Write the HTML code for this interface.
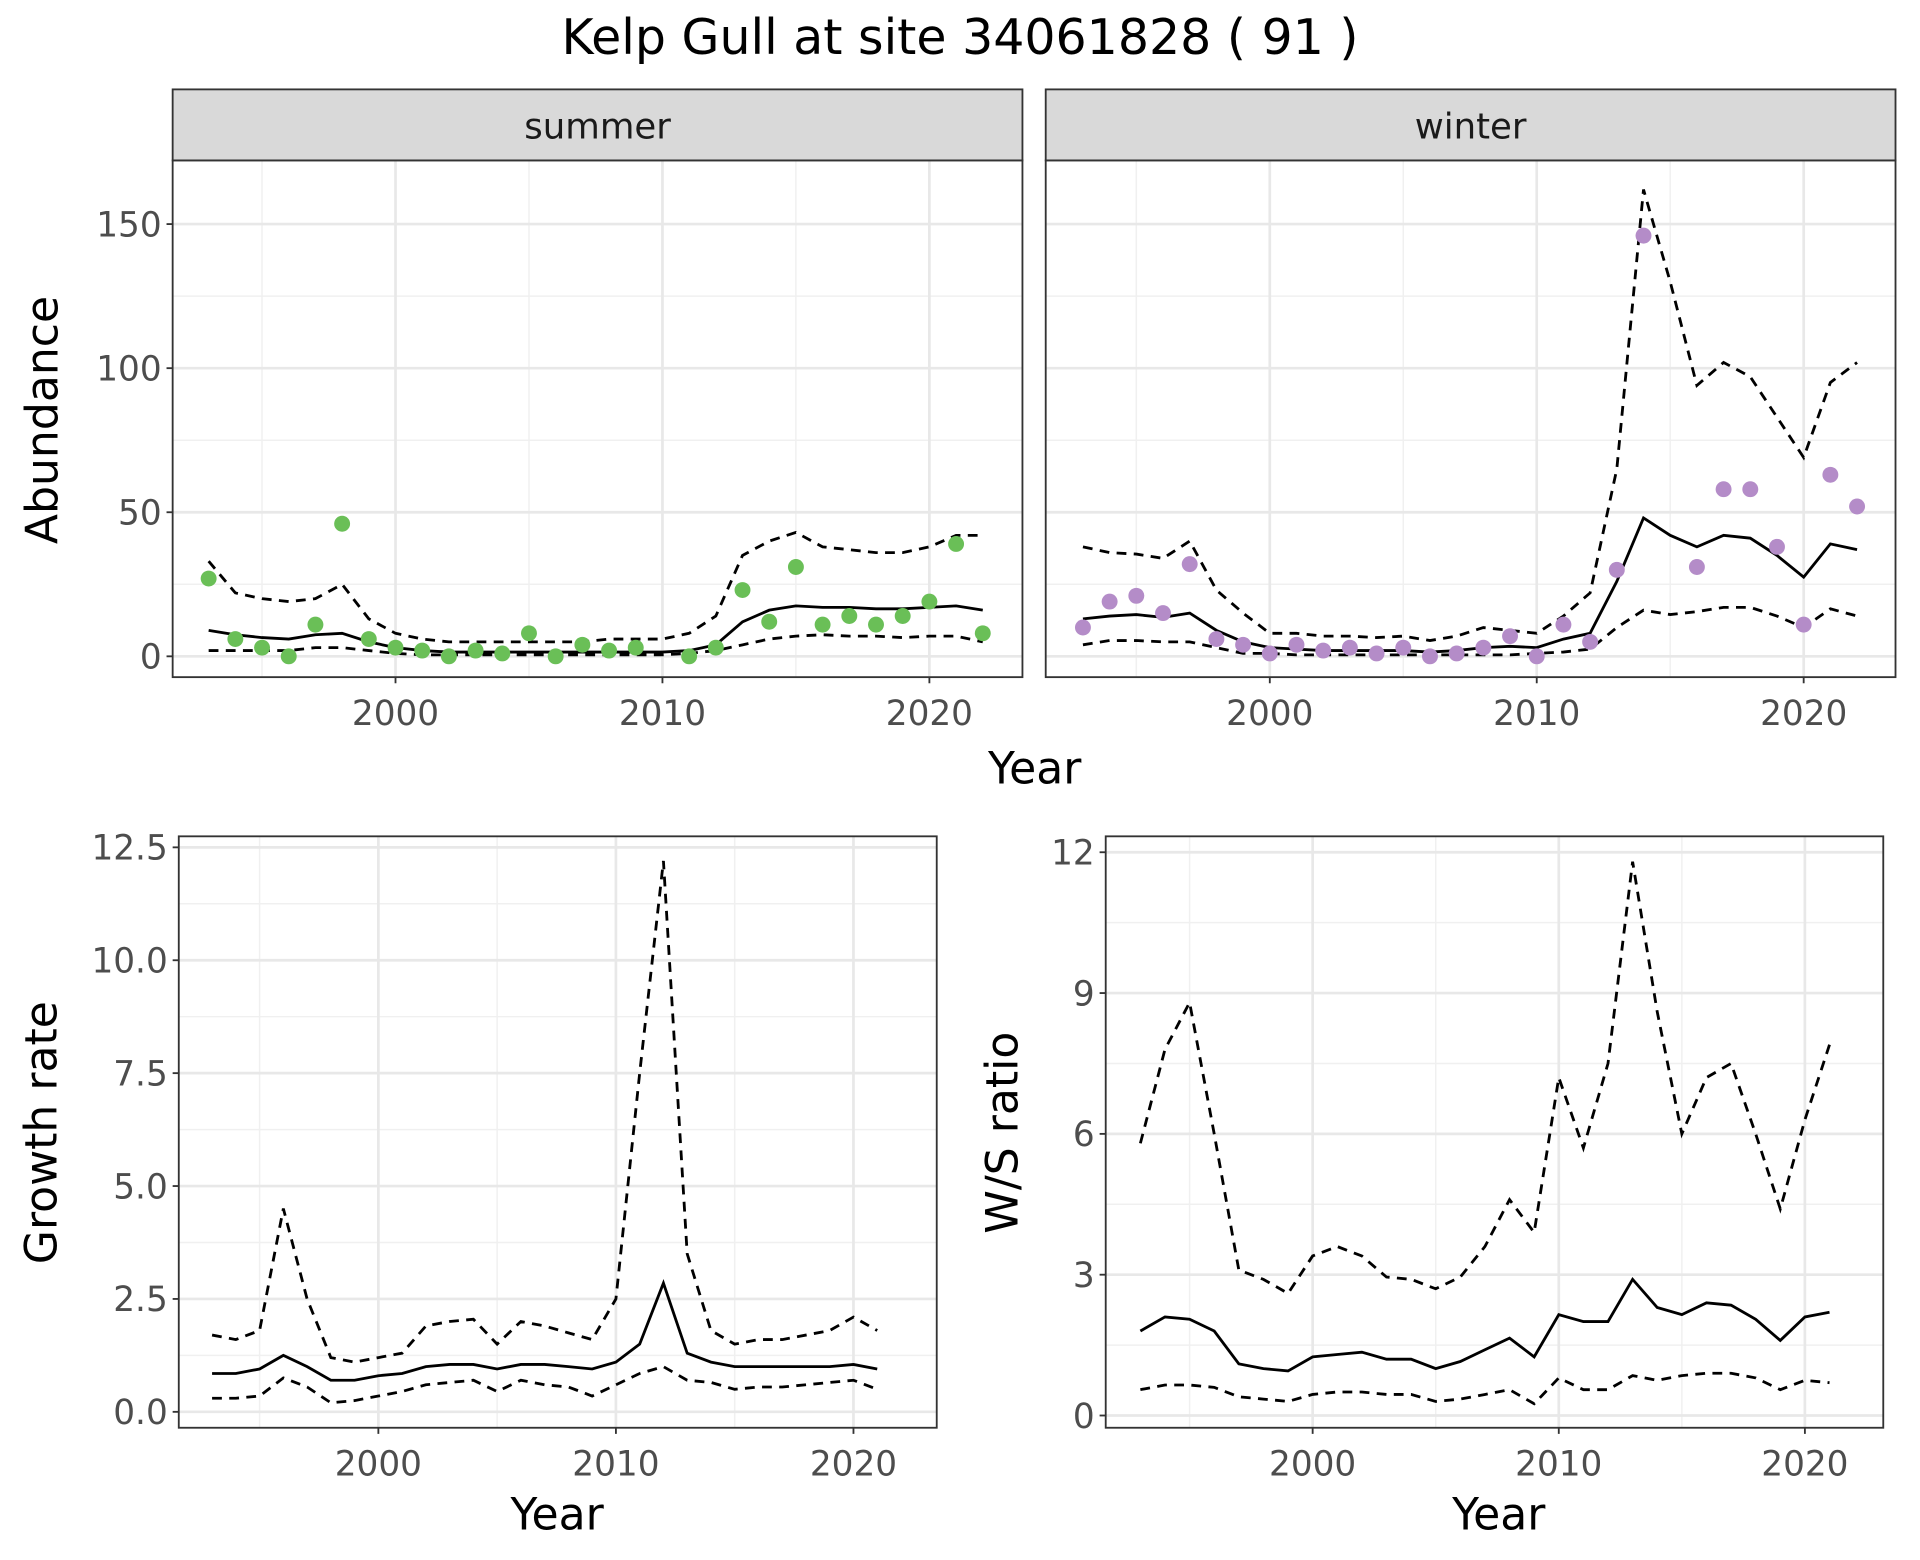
<!DOCTYPE html>
<html><head><meta charset="utf-8"><style>
html,body{margin:0;padding:0;background:#fff}
svg{display:block;font-family:"DejaVu Sans","Liberation Sans",sans-serif}
</style></head><body>
<svg id="c" width="1920" height="1560" viewBox="0 0 1568 1274" xmlns="http://www.w3.org/2000/svg">
<text x="784" y="44" text-anchor="middle" font-size="40" fill="#000">Kelp Gull at site 34061828 ( 91 )</text>
</svg>
<script>
const years = [1993,1994,1995,1996,1997,1998,1999,2000,2001,2002,2003,2004,2005,2006,2007,2008,2009,2010,2011,2012,2013,2014,2015,2016,2017,2018,2019,2020,2021,2022];
const sumObs = [27,6,3,0,11,46,6,3,2,0,2,1,8,0,4,2,3,null,0,3,23,12,31,11,14,11,14,19,39,8];
const sumMean = [9,7.5,6.5,6,7.5,8,5,3,2,1.5,1.5,1.5,1.5,1.5,1.5,1.5,1.5,1.5,2,4,12,16,17.5,17,17,16.5,16.5,17,17.5,16];
const sumUp = [33,22,20,19,20,25,13,8,6,5,5,5,5,5,5,6,6,6,8,14,35,40,43,38,37,36,36,38,42,42];
const sumLo = [2,2,2,2,3,3,2,1,0.5,0.5,0.5,0.5,0.5,0.5,0.5,0.5,0.5,0.5,1,2,4,6,7,7.5,7,7,6.5,7,7,5];
const winObs = [10,19,21,15,32,6,4,1,4,2,3,1,3,0,1,3,7,0,11,5,30,146,null,31,58,58,38,11,63,52];
const winMean = [13,14,14.5,13.5,15,9,5,3,2.5,2,2,2,2,1.5,2,3,3.5,3,6,8,26,48,42,38,42,41,35,27.5,39,37];
const winUp = [38,36,35.5,34,40,23,15,8,8,7,7,6.5,7,5.5,7,10,9,8,14,22,65,162,130,94,102,97,83,69,95,102];
const winLo = [4,5.5,5.5,5,5,3,1,1,0.5,0.5,0.5,0.5,0.5,0.5,0.5,0.5,0.5,1,1.5,2.5,10,16,14.5,15.5,17,17,14,10,16.5,14];
const rYears = years.slice(0,29);
const grMean = [.85,.85,.95,1.25,1.0,.7,.7,.8,.85,1.0,1.05,1.05,.95,1.05,1.05,1.0,.95,1.1,1.5,2.85,1.3,1.1,1.0,1.0,1.0,1.0,1.0,1.05,.95];
const grUp = [1.7,1.6,1.8,4.5,2.5,1.2,1.1,1.2,1.3,1.9,2.0,2.05,1.5,2.0,1.9,1.75,1.6,2.5,7.5,12.2,3.5,1.8,1.5,1.6,1.6,1.7,1.8,2.1,1.8];
const grLo = [.3,.3,.35,.75,.55,.2,.25,.35,.45,.6,.65,.7,.45,.7,.6,.55,.35,.6,.85,1.0,.7,.65,.5,.55,.55,.6,.65,.7,.5];
const wsMean = [1.8,2.1,2.05,1.8,1.1,1.0,.95,1.25,1.3,1.35,1.2,1.2,1.0,1.15,1.4,1.65,1.25,2.15,2.0,2.0,2.9,2.3,2.15,2.4,2.35,2.05,1.6,2.1,2.2];
const wsUp = [5.8,7.8,8.8,6.0,3.1,2.9,2.6,3.4,3.6,3.4,2.95,2.9,2.7,2.95,3.6,4.6,3.9,7.2,5.7,7.5,11.8,8.6,6.0,7.2,7.5,6.0,4.4,6.3,7.9];
const wsLo = [.55,.65,.65,.6,.4,.35,.3,.45,.5,.5,.45,.45,.3,.35,.45,.55,.25,.8,.55,.55,.85,.75,.85,.9,.9,.8,.55,.75,.7];
const xTicks = [2000,2010,2020];
const xMinor = [1995,2005,2015];
const abTicks = [0,50,100,150];
const abMinor = [25,75,125];
const grTicks = [0,2.5,5,7.5,10,12.5];
const grTickLabels = ["0.0","2.5","5.0","7.5","10.0","12.5"];
const grMinor = [1.25,3.75,6.25,8.75,11.25];
const wsTicks = [0,3,6,9,12];
const wsMinor = [1.5,4.5,7.5,10.5];

const NS="http://www.w3.org/2000/svg", svg=document.getElementById('c');
function mk(tag,a,parent){const e=document.createElementNS(NS,tag);for(const k in a)e.setAttribute(k,a[k]);(parent||svg).appendChild(e);return e;}
function lin(d0,d1,r0,r1){return v=>r0+(v-d0)*(r1-r0)/(d1-d0);}
const TICK=28;

function panel(o){
  const g=mk('g',{});
  
  
  const x=lin(2000,2020,o.x2000,o.x2020), y=lin(o.yv0,o.yv1,o.yp0,o.yp1);
  mk('rect',{x:o.l,y:o.t,width:o.r-o.l,height:o.b-o.t,fill:'#fff'},g);
  o.yMinor.forEach(v=>mk('line',{x1:o.l,x2:o.r,y1:y(v),y2:y(v),stroke:'#f0f0f0','stroke-width':1.2},g));
  xMinor.forEach(v=>mk('line',{x1:x(v),x2:x(v),y1:o.t,y2:o.b,stroke:'#f0f0f0','stroke-width':1.2},g));
  o.yTicks.forEach(v=>mk('line',{x1:o.l,x2:o.r,y1:y(v),y2:y(v),stroke:'#e8e8e8','stroke-width':2.2},g));
  xTicks.forEach(v=>mk('line',{x1:x(v),x2:x(v),y1:o.t,y2:o.b,stroke:'#e8e8e8','stroke-width':2.2},g));
  const path=(xs,vs,dash,name)=>{let d='';let pen=false;vs.forEach((v,i)=>{if(v==null){pen=false;return;}d+=(pen?'L':'M')+x(xs[i]).toFixed(1)+','+y(v).toFixed(1);pen=true;});
    const p=mk('path',{d:d,fill:'none',stroke:'#000','stroke-width':2.3,'stroke-dasharray':dash?'8,6':'none'},g);
    
    };
  o.lines.forEach(L=>path(L.xs,L.vs,L.dash,L.name));
  if(o.pts){o.pts.forEach((v,i)=>{if(v==null)return;const c=mk('circle',{cx:x(years[i]),cy:y(v),r:6.5,fill:o.col},g);
    
    });}
  mk('rect',{x:o.l,y:o.t,width:o.r-o.l,height:o.b-o.t,fill:'none',stroke:'#333','stroke-width':1.5},g);
  if(o.yLabels){o.yTicks.forEach((v,i)=>{mk('line',{x1:o.l-5,x2:o.l,y1:y(v),y2:y(v),stroke:'#333','stroke-width':1.5},g);
    const t=mk('text',{x:o.l-9,y:y(v)+10,'text-anchor':'end','font-size':TICK,fill:'#4d4d4d'},g);t.textContent=o.yLabels[i];
    
    });}
  xTicks.forEach(v=>{mk('line',{x1:x(v),x2:x(v),y1:o.b,y2:o.b+5,stroke:'#333','stroke-width':1.5},g);
    const t=mk('text',{x:x(v),y:o.b+39,'text-anchor':'middle','font-size':TICK,fill:'#4d4d4d'},g);t.textContent=v;
    
    });
  if(o.strip){mk('rect',{x:o.l,y:o.t-58,width:o.r-o.l,height:58,fill:'#d9d9d9',stroke:'#333','stroke-width':1.5},g);
    const t=mk('text',{x:(o.l+o.r)/2,y:o.t-18,'text-anchor':'middle','font-size':29,fill:'#1a1a1a'},g);t.textContent=o.strip;
    
    }
}
function txt(s,x,y,rot,name){const t=mk('text',{x:x,y:y,'text-anchor':'middle','font-size':36,fill:'#000',transform:rot?`rotate(-90 ${x} ${y})`:''});t.textContent=s;
  
  }

const abL=abTicks.map(String);
panel({name:'summer-panel',l:141,r:835,t:131,b:553,x2000:323,x2020:759,yv0:0,yv1:150,yp0:536,yp1:183,yTicks:abTicks,yMinor:abMinor,yLabels:abL,strip:'summer',pts:sumObs,col:'#6abf57',
  lines:[{xs:years,vs:sumMean,dash:false,name:'summer-mean-line'},{xs:years,vs:sumUp,dash:true,name:'summer-upper-ci'},{xs:years,vs:sumLo,dash:true,name:'summer-lower-ci'}]});
panel({name:'winter-panel',l:854,r:1548,t:131,b:553,x2000:1037,x2020:1473,yv0:0,yv1:150,yp0:536,yp1:183,yTicks:abTicks,yMinor:abMinor,yLabels:null,strip:'winter',pts:winObs,col:'#b48cc8',
  lines:[{xs:years,vs:winMean,dash:false,name:'winter-mean-line'},{xs:years,vs:winUp,dash:true,name:'winter-upper-ci'},{xs:years,vs:winLo,dash:true,name:'winter-lower-ci'}]});
panel({name:'growth-rate-panel',l:146,r:765,t:683,b:1166,x2000:309,x2020:697,yv0:0,yv1:12.5,yp0:1153,yp1:692,yTicks:grTicks,yMinor:grMinor,yLabels:grTickLabels,
  lines:[{xs:rYears,vs:grMean,dash:false,name:'growth-mean-line'},{xs:rYears,vs:grUp,dash:true,name:'growth-upper-ci'},{xs:rYears,vs:grLo,dash:true,name:'growth-lower-ci'}]});
panel({name:'ws-ratio-panel',l:903,r:1538,t:683,b:1166,x2000:1072,x2020:1474,yv0:0,yv1:12,yp0:1156,yp1:696,yTicks:wsTicks,yMinor:wsMinor,yLabels:wsTicks.map(String),
  lines:[{xs:rYears,vs:wsMean,dash:false,name:'ws-mean-line'},{xs:rYears,vs:wsUp,dash:true,name:'ws-upper-ci'},{xs:rYears,vs:wsLo,dash:true,name:'ws-lower-ci'}]});
txt('Year',845,640,false,'top-x-axis-title');
txt('Abundance',47,343,true,'abundance-y-axis-title');
txt('Year',455,1249,false,'growth-x-axis-title');
txt('Growth rate',46,925,true,'growth-y-axis-title');
txt('Year',1224,1249,false,'ws-x-axis-title');
txt('W/S ratio',831,925,true,'ws-y-axis-title');
</script>
</body></html>
